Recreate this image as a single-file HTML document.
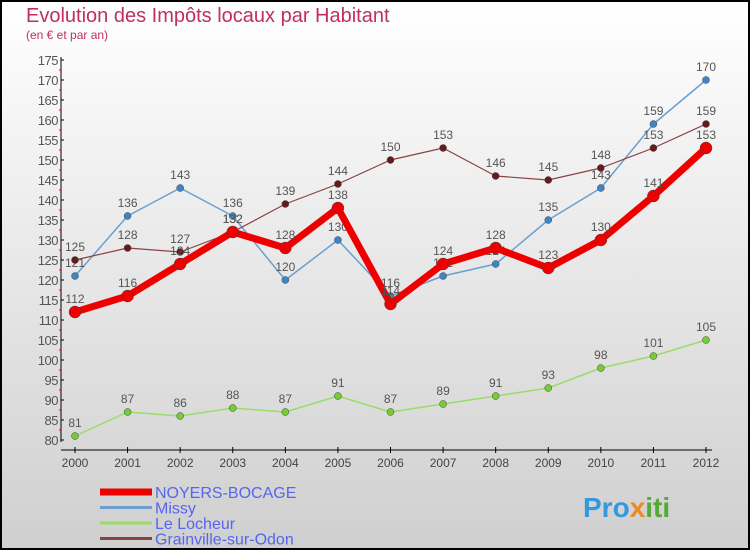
<!DOCTYPE html>
<html><head><meta charset="utf-8"><style>
body{margin:0}
#c{width:750px;height:550px;position:relative;overflow:hidden}
svg{display:block;font-family:"Liberation Sans","DejaVu Sans",sans-serif}
</style></head><body>
<div id="c">
<svg id="s" width="750" height="550">
<defs><linearGradient id="bg" x1="0" y1="0" x2="0" y2="1"><stop offset="0" stop-color="#ffffff"/><stop offset="1" stop-color="#cfcfcf"/></linearGradient></defs>
<rect x="1" y="1" width="748" height="548" fill="url(#bg)" stroke="#000" stroke-width="2"/>
<text x="26" y="22" font-size="20" fill="#c0305a">Evolution des Impôts locaux par Habitant</text>
<text x="26" y="39" font-size="12" fill="#c0305a">(en € et par an)</text>
<g id="axes"></g><g id="series"></g><g id="legend"></g>
<text x="583" y="517" font-size="28" font-weight="bold" fill="#3399dd">Pro<tspan fill="#ee8822">x</tspan><tspan fill="#55aa33">iti</tspan></text>
</svg></div>
<script>
const years=[2000,2001,2002,2003,2004,2005,2006,2007,2008,2009,2010,2011,2012];
const noyers=[112,116,124,132,128,138,114,124,128,123,130,141,153];
const missy=[121,136,143,136,120,130,116,121,124,135,143,159,170];
const locheur=[81,87,86,88,87,91,87,89,91,93,98,101,105];
const grainville=[125,128,127,132,139,144,150,153,146,145,148,153,159];
const yTicks=[80,85,90,95,100,105,110,115,120,125,130,135,140,145,150,155,160,165,170,175];
const NS="http://www.w3.org/2000/svg";
const xs=i=>75+i*(706-75)/12;
const ys=v=>440-(v-80)*4;
function el(t,a,p){const e=document.createElementNS(NS,t);for(const k in a)e.setAttribute(k,a[k]);p.appendChild(e);return e;}
const ax=document.getElementById('axes');
let yl=el('line',{x1:61,y1:57,x2:61,y2:442,stroke:'#000','stroke-width':1},ax);


let xl=el('line',{x1:61,y1:450,x2:712,y2:450,stroke:'#000','stroke-width':1},ax);


yTicks.forEach(v=>{
 el('line',{x1:61,y1:ys(v),x2:64,y2:ys(v),stroke:'#000'},ax);
 if(v<175) el('line',{x1:59,y1:ys(v+2.5),x2:61,y2:ys(v+2.5),stroke:'#e00'},ax);
 const t=el('text',{x:58,y:ys(v)+5,'font-size':13,fill:'#555','text-anchor':'end','letter-spacing':'-0.5'},ax);t.textContent=v;
 
 
});
years.forEach((y,i)=>{
 el('line',{x1:xs(i),y1:447,x2:xs(i),y2:453,stroke:'#000'},ax);
 const t=el('text',{x:xs(i),y:467,'font-size':12,fill:'#444','text-anchor':'middle'},ax);t.textContent=y;
 
 
});
const sg=document.getElementById('series');
const defs=[
 {n:'missy',d:missy,c:'#6a9fd0',dot:'#3d85c6',w:1.5,r:3.5},
 {n:'le-locheur',d:locheur,c:'#99dd66',dot:'#77cc33',w:1.5,r:3.5},
 {n:'grainville',d:grainville,c:'#884444',dot:'#661a1a',w:1.2,r:3.5},
 {n:'noyers-bocage',d:noyers,c:'#ee0000',dot:'#ee0000',w:7,r:6}
];
defs.forEach(s=>{
 const g=el('g',{},sg);
 
 
 const p=el('polyline',{points:s.d.map((v,i)=>xs(i)+','+ys(v)).join(' '),fill:'none',stroke:s.c,'stroke-width':s.w,'stroke-linejoin':'round'},g);
 
 
 s.d.forEach((v,i)=>{
  const c=el('circle',{cx:xs(i),cy:ys(v),r:s.r,fill:s.dot,stroke:'#444','stroke-width':0.5},g);
  
  
  const t=el('text',{x:xs(i),y:ys(v)-9,'font-size':12,fill:'#555','text-anchor':'middle'},g);t.textContent=v;
  
  
 });
});
const lg=document.getElementById('legend');
const leg=[['NOYERS-BOCAGE','#ee0000',7],['Missy','#6a9fd0',3],['Le Locheur','#99dd66',3],['Grainville-sur-Odon','#884444',3]];
leg.forEach((l,i)=>{
 const y=492+i*15.5;
 const g=el('g',{},lg);
 
 
 el('line',{x1:100,y1:y,x2:152,y2:y,stroke:l[1],'stroke-width':l[2]},g);
 const t=el('text',{x:155,y:y+6,'font-size':16,fill:'#5566ee'},g);t.textContent=l[0];
});
</script>
</body></html>
